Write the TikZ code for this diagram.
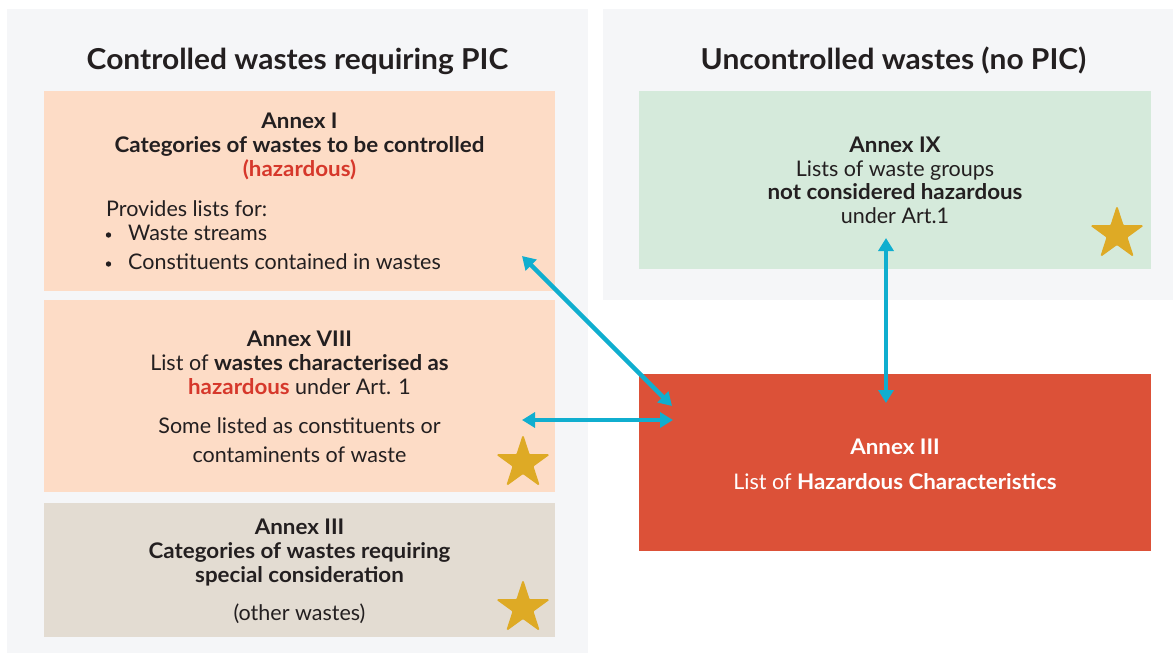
\documentclass[tikz,border=0pt]{standalone}
\usepackage{fontspec}
\setmainfont{Lato}[BoldFeatures={FakeStretch=1.04}]
\usetikzlibrary{shapes.geometric,arrows.meta}
\definecolor{panelgray}{HTML}{F5F6F8}
\definecolor{peach}{HTML}{FDDCC6}
\definecolor{beige}{HTML}{E3DCD2}
\definecolor{mint}{HTML}{D5EADB}
\definecolor{hazred}{HTML}{DC5138}
\definecolor{linkblue}{HTML}{10AECF}
\definecolor{gold}{HTML}{DEAA25}
\definecolor{ink}{HTML}{231F20}
\definecolor{redtext}{HTML}{D6382B}
\begin{document}
\begin{tikzpicture}[x=1pt,y=-1pt,
  area/.style={draw=none,inner sep=0pt,anchor=north west},
  txt/.style={anchor=base,inner sep=0pt,text=ink,font=\fontsize{21.5}{24}\selectfont},
  ltxt/.style={txt,anchor=base west},
  dot/.style={circle,fill=ink,inner sep=0pt,minimum size=5.4pt},
  heading/.style={anchor=base,inner sep=0pt,text=ink,font=\fontsize{28.8}{32}\selectfont\bfseries},
  award/.style={star,star points=5,star point ratio=2.618,minimum size=54pt,inner sep=0pt,
    fill=gold,draw=gold,line width=1.2pt,rounded corners=1pt},
  link/.style={draw=linkblue,line width=4.5pt,
    {Triangle[length=13pt,width=15pt]}-{Triangle[length=13pt,width=15pt]}}]
\useasboundingbox (0,0) rectangle (1173,653);
\fill[white] (0,0) rectangle (1173,653);

% panels
\node[area,fill=panelgray,minimum width=581pt,minimum height=644pt] (leftpanel) at (7,9) {};
\node[area,fill=panelgray,minimum width=570pt,minimum height=291pt] (rightpanel) at (603,9) {};
\node[heading] (lefttitle) at (297.5,69) {Controlled wastes requiring PIC};
\node[heading] (righttitle) at (893.5,69) {Uncontrolled wastes (no PIC)};

% boxes
\node[area,fill=peach,minimum width=511pt,minimum height=200pt] (annexI) at (44,91) {};
\node[area,fill=peach,minimum width=511pt,minimum height=192pt] (annexVIII) at (44,300) {};
\node[area,fill=beige,minimum width=511pt,minimum height=134pt] (annexIIIb) at (44,503) {};
\node[area,fill=mint,minimum width=512pt,minimum height=178pt] (annexIX) at (639,91) {};
\node[area,fill=hazred,minimum width=512pt,minimum height=177pt] (annexIIIr) at (639,374) {};

% Annex I
\node[txt] (i1) at (299.5,128) {\bfseries Annex I};
\node[txt] (i2) at (299.5,152) {\bfseries Categories of wastes to be controlled};
\node[txt,text=redtext] (i3) at (299.5,176) {\bfseries (hazardous)};
\node[ltxt] (i4) at (106,216) {Provides lists for:};
\node[dot] (i5b) at (108.5,235) {};
\node[ltxt] (i5) at (128,240) {Waste streams};
\node[dot] (i6b) at (108.5,264) {};
\node[ltxt] (i6) at (128,269) {Constituents contained in wastes};

% Annex VIII
\node[txt] (v1) at (299.5,346) {\bfseries Annex VIII};
\node[txt] (v2) at (299.5,370) {List of \textbf{wastes characterised as}};
\node[txt] (v3) at (299.5,394) {\textbf{\textcolor{redtext}{hazardous}} under Art. 1};
\node[txt] (v4) at (299.5,433) {Some listed as constituents or};
\node[txt] (v5) at (299.5,462) {contaminents of waste};
\node[award] (starVIII) at (523,463) {};

% Annex III (other wastes)
\node[txt] (g1) at (299.5,534) {\bfseries Annex III};
\node[txt] (g2) at (299.5,558) {\bfseries Categories of wastes requiring};
\node[txt] (g3) at (299.5,582) {\bfseries special consideration};
\node[txt] (g4) at (299.5,620) {(other wastes)};
\node[award] (starIII) at (523,608) {};

% Annex IX
\node[txt] (n1) at (895,152) {\bfseries Annex IX};
\node[txt] (n2) at (895,176) {Lists of waste groups};
\node[txt] (n3) at (895,199) {\bfseries not considered hazardous};
\node[txt] (n4) at (895,223) {under Art.1};
\node[award] (starIX) at (1117,234) {};

% Annex III (hazardous characteristics)
\node[txt,text=white] (r1) at (895,454) {\bfseries Annex III};
\node[txt,text=white] (r2) at (895,489) {List of \textbf{Hazardous Characteristics}};

% links
\coordinate (pI) at (522,256);
\coordinate (pVIII) at (522,420);
\coordinate (pIX) at (886,238);
\coordinate (qI) at (672,406);
\coordinate (qVIII) at (673,420);
\coordinate (qIX) at (886,403);
\draw[link] (pI) -- (qI);
\draw[link] (pVIII) -- (qVIII);
\draw[link] (pIX) -- (qIX);
\end{tikzpicture}
\end{document}
